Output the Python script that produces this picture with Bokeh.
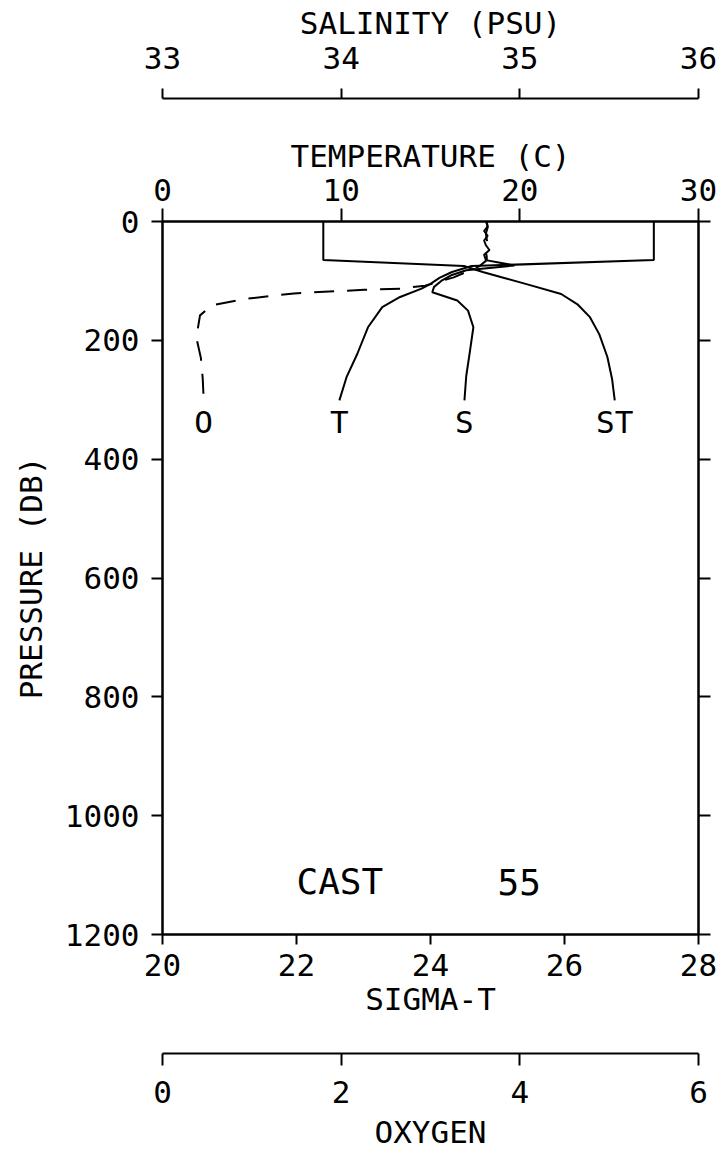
from bokeh.plotting import figure
from bokeh.models import Range1d, LinearAxis, FixedTicker
from bokeh.core.properties import value
from bokeh.embed import file_html
from bokeh.resources import INLINE

FONT = "DejaVu Sans Mono"
FS = "31px"

# ---------------- data ----------------
t_pres = [0, 65, 75, 85, 95, 105, 113, 127, 144, 178, 223, 262, 301]
temp = [27.5, 27.5, 17.3, 16.2, 15.5, 15.0, 14.5, 13.3, 12.3, 11.5, 10.9, 10.3, 9.9]

s_pres = [0, 8, 16, 24, 32, 40, 48, 56, 65, 74, 82, 90, 100, 110, 119, 133, 150, 178, 220, 260, 301]
sal = [34.81, 34.82, 34.80, 34.82, 34.80, 34.81, 34.83, 34.80, 34.81, 34.97, 34.70, 34.62,
       34.56, 34.52, 34.51, 34.65, 34.71, 34.74, 34.72, 34.70, 34.69]

st_pres = [0, 65, 75, 85, 95, 105, 122, 140, 161, 190, 228, 265, 301]
sigma = [22.4, 22.4, 24.5, 24.78, 25.1, 25.42, 25.95, 26.2, 26.38, 26.52, 26.64, 26.71, 26.75]

o_pres = [0, 10, 20, 30, 40, 50, 60, 65, 75, 85, 94, 108, 113, 115, 121, 130, 141, 158, 176,
          196, 230, 264, 296]
oxy = [3.63, 3.64, 3.62, 3.63, 3.64, 3.62, 3.63, 3.63, 3.55, 3.40, 3.26, 2.94, 2.66, 2.26,
       1.47, 0.94, 0.55, 0.42, 0.40, 0.38, 0.43, 0.45, 0.46]

pres_ticks = [0, 200, 400, 600, 800, 1000, 1200]
temp_ticks = [0, 10, 20, 30]
sal_ticks = [33, 34, 35, 36]
sigma_ticks = [20, 22, 24, 26, 28]
oxy_ticks = [0, 2, 4, 6]

curve_labels = ["O", "T", "S", "ST"]
label_depth = 338
cast_words = ["CAST", "55"]
cast_sigma = [22.0, 25.0]
cast_depth = 1111

# ---------------- figure ----------------
p = figure(frame_width=536, frame_height=713,
           x_range=Range1d(20, 28), y_range=Range1d(1200, 0),
           x_axis_location=None, y_axis_location=None,
           toolbar_location=None, output_backend="svg",
           title_location=None,
           min_border_left=162, min_border_right=22,
           min_border_top=221, min_border_bottom=0,
           background_fill_color="white", border_fill_color="white",
           outline_line_color="black", outline_line_width=2)
p.xgrid.grid_line_color = None
p.ygrid.grid_line_color = None

p.extra_x_ranges = {"temp": Range1d(0, 30), "sal": Range1d(33, 36), "oxy": Range1d(0, 6)}


def style(ax, ticks, label, tick_out, label_standoff=4, title_standoff=8):
    ax.ticker = FixedTicker(ticks=ticks)
    ax.axis_label = label
    ax.axis_label_text_font = FONT
    ax.axis_label_text_font_size = FS
    ax.axis_label_text_font_style = "normal"
    ax.axis_label_text_color = "black"
    ax.axis_label_standoff = title_standoff
    ax.major_label_text_font = FONT
    ax.major_label_text_font_size = FS
    ax.major_label_text_color = "black"
    ax.major_label_standoff = label_standoff
    ax.axis_line_color = "black"
    ax.axis_line_width = 2
    ax.major_tick_line_color = "black"
    ax.major_tick_line_width = 2
    ax.major_tick_out = tick_out
    ax.major_tick_in = 0
    ax.minor_tick_line_color = None
    return ax


def spacer(range_name, mid, gap):
    # an axis with a single white tick and no labels: it only reserves room between two axes
    ax = LinearAxis(x_range_name=range_name, ticker=FixedTicker(ticks=[mid]))
    ax.axis_line_color = None
    ax.major_tick_line_color = "white"
    ax.major_tick_line_width = 1
    ax.minor_tick_line_color = None
    ax.major_tick_out = gap
    ax.major_tick_in = 0
    ax.minor_tick_out = 0
    ax.major_label_standoff = 0
    ax.major_label_text_color = None
    ax.major_label_text_font_size = "1px"
    ax.axis_label = None
    return ax


# top: temperature (next to frame), then gap, then salinity
temp_ax = style(LinearAxis(x_range_name="temp"), temp_ticks, "TEMPERATURE (C)", 13, 8, 2)
p.add_layout(temp_ax, "above")
p.add_layout(spacer("temp", 15, 36), "above")
sal_ax = style(LinearAxis(x_range_name="sal"), sal_ticks, "SALINITY (PSU)", 10, 20, 3)
p.add_layout(sal_ax, "above")

# bottom: sigma-t (next to frame), then gap, then oxygen
sig_ax = style(LinearAxis(), sigma_ticks, "SIGMA-T", 10, 9, 2)
p.add_layout(sig_ax, "below")
p.add_layout(spacer("oxy", 3, 34), "below")
oxy_ax = style(LinearAxis(x_range_name="oxy"), oxy_ticks, "OXYGEN", 12, 15, 8)
p.add_layout(oxy_ax, "below")

# left pressure axis
left_ax = style(LinearAxis(), pres_ticks, "PRESSURE (DB)", 11, 12, 13)
p.add_layout(left_ax, "left")

# right: ticks only
right_ax = style(LinearAxis(), pres_ticks, "", 12, 0, 0)
right_ax.axis_label = None
right_ax.major_label_text_color = None
right_ax.major_label_text_font_size = "1px"
p.add_layout(right_ax, "right")

# ---------------- curves ----------------
p.line(x=temp, y=t_pres, x_range_name="temp", line_color="black", line_width=2)
p.line(x=sal, y=s_pres, x_range_name="sal", line_color="black", line_width=2)
p.line(x=sigma, y=st_pres, line_color="black", line_width=2)
p.line(x=oxy, y=o_pres, x_range_name="oxy", line_color="black", line_width=2,
       line_dash="20 13")

# curve end labels
txt = dict(text_font=value(FONT), text_font_size=value(FS), text_color="black",
           text_align="center", text_baseline="middle")
p.text(x=[oxy[-1]], y=[label_depth], text=[curve_labels[0]], x_range_name="oxy", **txt)
p.text(x=[temp[-1]], y=[label_depth], text=[curve_labels[1]], x_range_name="temp", **txt)
p.text(x=[sal[-1]], y=[label_depth], text=[curve_labels[2]], x_range_name="sal", **txt)
p.text(x=[sigma[-1]], y=[label_depth], text=[curve_labels[3]], **txt)

# cast label
p.text(x=cast_sigma, y=[cast_depth] * 2, text=cast_words,
       text_font=value(FONT), text_font_size=value("36px"), text_color="black",
       text_align="left", text_baseline="middle")

open("out.html", "w").write(file_html(p, INLINE))
